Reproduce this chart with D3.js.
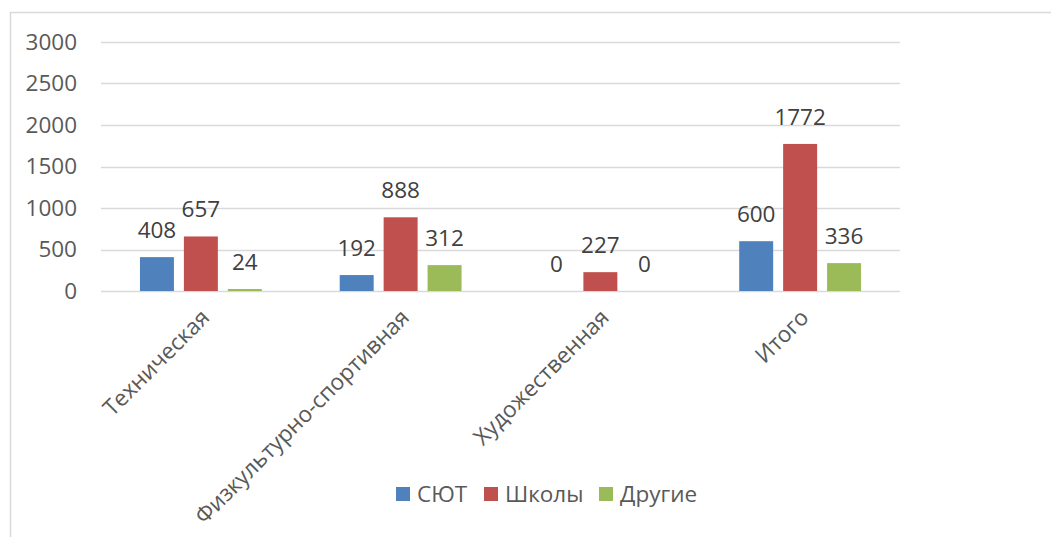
<!DOCTYPE html>
<html>
<head>
<meta charset="utf-8">
<script src="https://cdn.jsdelivr.net/npm/d3@7"></script>
<style>
  body { margin: 0; background: #fff; }
  svg { font-family: "Open Sans", sans-serif; }
</style>
</head>
<body>
<svg width="1051" height="537"></svg>
<script>
const categories = ["Техническая", "Физкультурно-спортивная", "Художественная", "Итого"]
const seriesNames = ["СЮТ", "Школы", "Другие"]
const sjut = [408, 192, 0, 600]
const shkoly = [657, 888, 227, 1772]
const drugie = [24, 312, 0, 336]
const yTicks = [0, 500, 1000, 1500, 2000, 2500, 3000]
const colors = ["#4F81BD", "#C0504D", "#9BBB59"]

const values = [sjut, shkoly, drugie]
const rows = categories.map((c, i) => ({
	cat: c,
	vals: seriesNames.map((s, j) => ({ series: s, value: values[j][i] }))
}))

const margin = {left: 101, right: 151, top: 42, bottom: 246}
const width = 1051 - margin.left - margin.right
const height = 537 - margin.top - margin.bottom
const fs = 22.5

const svg = d3.select("svg")

// outer chart frame (right edge runs off the page)
svg.append("rect")
	.attr("x", 10.5).attr("y", 12.5)
	.attr("width", 1100).attr("height", 600)
	.attr("fill", "none")
	.attr("stroke", "#d9d9d9")
	.attr("stroke-width", 1.5)

const g = svg.append("g")
	.attr("transform", "translate(" + margin.left + "," + margin.top + ")")

const x0 = d3.scaleBand().domain(categories).range([0, width]).padding(0)
const x1 = d3.scaleBand().domain(seriesNames)
	.range([x0.bandwidth() * 0.195, x0.bandwidth() * 0.805])
	.paddingInner(0.227)
const y = d3.scaleLinear().domain([0, 3000]).range([height, 0])
const color = d3.scaleOrdinal().domain(seriesNames).range(colors)

// gridlines
g.append("g")
	.selectAll("line")
	.data(yTicks)
	.join("line")
	.attr("x1", 0).attr("x2", width)
	.attr("y1", d => Math.round(y(d)) + 0.5).attr("y2", d => Math.round(y(d)) + 0.5)
	.attr("stroke", "#d9d9d9")
	.attr("stroke-width", 1.5)

// y axis labels
const yAxis = g.append("g")
	.attr("transform", "translate(-24,0)")
	.call(d3.axisLeft(y).tickValues(yTicks).tickFormat(d3.format("d")).tickSize(0).tickPadding(0))
yAxis.select(".domain").remove()
yAxis.selectAll("text")
	.attr("font-family", "Open Sans, sans-serif")
	.attr("font-size", fs)
	.attr("fill", "#595959")

// bars
const groups = g.selectAll(".cat")
	.data(rows)
	.join("g")
	.attr("class", "cat")
	.attr("transform", d => "translate(" + x0(d.cat) + ",0)")

groups.selectAll("rect")
	.data(d => d.vals)
	.join("rect")
	.attr("x", d => x1(d.series))
	.attr("y", d => y(d.value))
	.attr("width", x1.bandwidth())
	.attr("height", d => height - y(d.value))
	.attr("fill", d => color(d.series))

groups.selectAll("text")
	.data(d => d.vals)
	.join("text")
	.attr("x", d => x1(d.series) + x1.bandwidth() / 2)
	.attr("y", d => y(d.value) - 19)
	.attr("text-anchor", "middle")
	.attr("font-size", fs)
	.attr("fill", "#404040")
	.text(d => d.value)

// category labels, rotated
g.append("g")
	.selectAll("text")
	.data(categories)
	.join("text")
	.attr("transform", d => "translate(" + (x0(d) + x0.bandwidth() / 2 + 10) + "," + (height + 28) + ") rotate(-45)")
	.attr("text-anchor", "end")
	.attr("font-size", fs)
	.attr("fill", "#595959")
	.text(d => d)

// legend
const legendX = [396, 484, 599]
const legend = svg.append("g")
	.selectAll("g")
	.data(seriesNames)
	.join("g")
	.attr("transform", (d, i) => "translate(" + legendX[i] + ",487)")
legend.append("rect")
	.attr("width", 14).attr("height", 14)
	.attr("fill", d => color(d))
legend.append("text")
	.attr("x", 21).attr("y", 15)
	.attr("font-size", fs)
	.attr("fill", "#595959")
	.text(d => d)
</script>
</body>
</html>
